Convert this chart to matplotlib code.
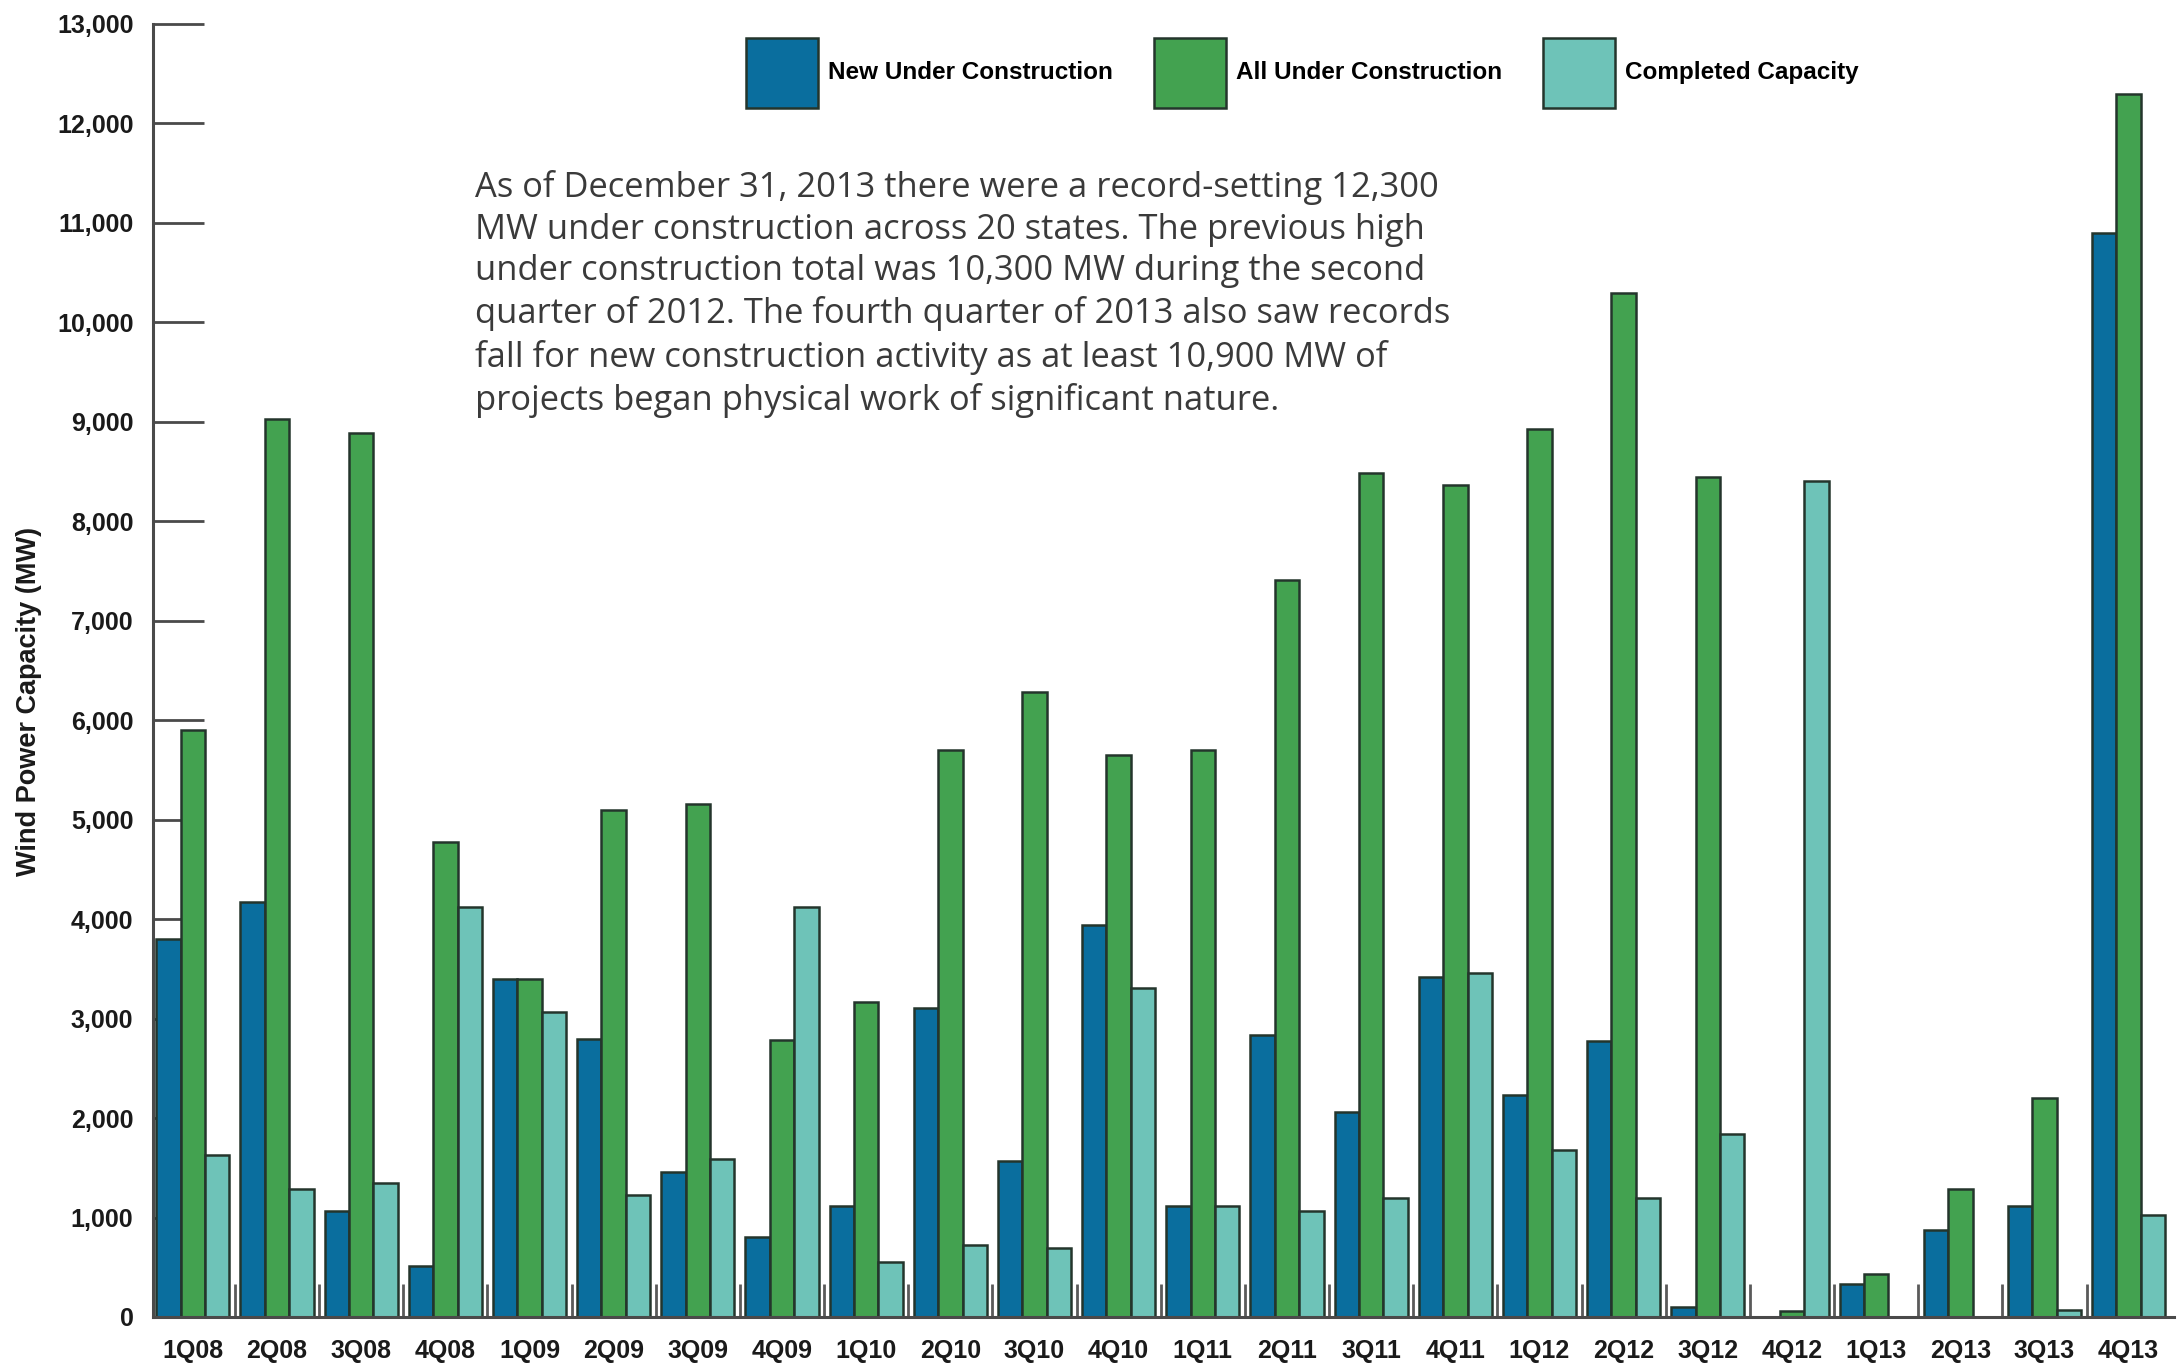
import matplotlib
matplotlib.use("Agg")
import matplotlib.pyplot as plt
import numpy as np
from matplotlib.ticker import FuncFormatter, FixedLocator

quarters = ["1Q08", "2Q08", "3Q08", "4Q08", "1Q09", "2Q09", "3Q09", "4Q09",
            "1Q10", "2Q10", "3Q10", "4Q10", "1Q11", "2Q11", "3Q11", "4Q11",
            "1Q12", "2Q12", "3Q12", "4Q12", "1Q13", "2Q13", "3Q13", "4Q13"]
new_under_construction = [3800, 4170, 1070, 510, 3400, 2790, 1460, 800,
                          1120, 3110, 1570, 3940, 1120, 2840, 2060, 3420,
                          2230, 2770, 100, 0, 330, 870, 1120, 10900]
all_under_construction = [5900, 9030, 8890, 4780, 3400, 5100, 5160, 2780,
                          3170, 5700, 6280, 5650, 5700, 7410, 8490, 8360,
                          8930, 10300, 8450, 60, 430, 1290, 2200, 12300]
completed_capacity = [1630, 1290, 1350, 4120, 3070, 1230, 1590, 4120,
                      550, 720, 690, 3310, 1120, 1070, 1200, 3460,
                      1680, 1200, 1840, 8400, 0, 0, 70, 1030]
series_names = ["New Under Construction", "All Under Construction", "Completed Capacity"]
y_ticks = list(range(0, 13001, 1000))
annotation = ("As of December 31, 2013 there were a record-setting 12,300\n"
              "MW under construction across 20 states. The previous high\n"
              "under construction total was 10,300 MW during the second\n"
              "quarter of 2012. The fourth quarter of 2013 also saw records\n"
              "fall for new construction activity as at least 10,900 MW of\n"
              "projects began physical work of significant nature.")

colors = ["#0a6e9e", "#43a250", "#6ec3b8"]
edge = "#24352c"
narrow = ["Liberation Sans Narrow", "Liberation Sans", "DejaVu Sans"]

fig = plt.figure(figsize=(21.78, 13.69), dpi=100)
ax = fig.add_axes([0.0702, 0.038, 0.928, 0.9445])

x = np.arange(len(quarters))
w = 0.29
for k, (vals, name) in enumerate(zip([new_under_construction, all_under_construction, completed_capacity], series_names)):
    ax.bar(x + (k - 1) * w, vals, width=w, color=colors[k], edgecolor=edge,
           linewidth=1.8, label=name, zorder=2)

ax.set_xlim(-0.475, 23.54)
ax.set_ylim(0, 13000)
ax.set_axisbelow(True)

for s in ["top", "right"]:
    ax.spines[s].set_visible(False)
for s in ["left", "bottom"]:
    ax.spines[s].set_color("#4a4a4a")
    ax.spines[s].set_linewidth(2.2)

ax.yaxis.set_major_locator(FixedLocator(y_ticks))
ax.yaxis.set_major_formatter(FuncFormatter(lambda v, p: f"{int(v):,}"))
ax.tick_params(axis="y", direction="in", length=37, width=2, color="#4a4a4a",
               pad=14, labelsize=18)
ax.set_xticks(x)
ax.set_xticklabels(quarters)
ax.tick_params(axis="x", which="major", length=0, pad=16, labelsize=18)
ax.set_xticks(x[:-1] + 0.5, minor=True)
ax.tick_params(axis="x", which="minor", direction="in", length=24, width=2,
               color="#5a5a5a")
for lab in ax.get_yticklabels() + ax.get_xticklabels():
    lab.set_family(narrow)
    lab.set_fontweight("bold")
    lab.set_color("#1a1a1a")

ax.set_ylabel("Wind Power Capacity (MW)", family=narrow, fontweight="bold",
              fontsize=19.5, color="#1a1a1a")
ax.yaxis.set_label_coords(-0.055, 0.476)

leg = fig.legend(*ax.get_legend_handles_labels(), loc="center",
                 bbox_to_anchor=(0.598, 0.947), ncol=3,
                 frameon=False, handlelength=2.96, handleheight=4.06,
                 handletextpad=0.4, columnspacing=1.7,
                 prop={"family": narrow, "weight": "bold", "size": 17.5})

fig.text(0.218, 0.876, annotation, family=["Open Sans", "DejaVu Sans"],
         fontsize=24.8, color="#3a3a3a", va="top", ha="left", linespacing=1.3)

fig.savefig("out.png", dpi=100)
